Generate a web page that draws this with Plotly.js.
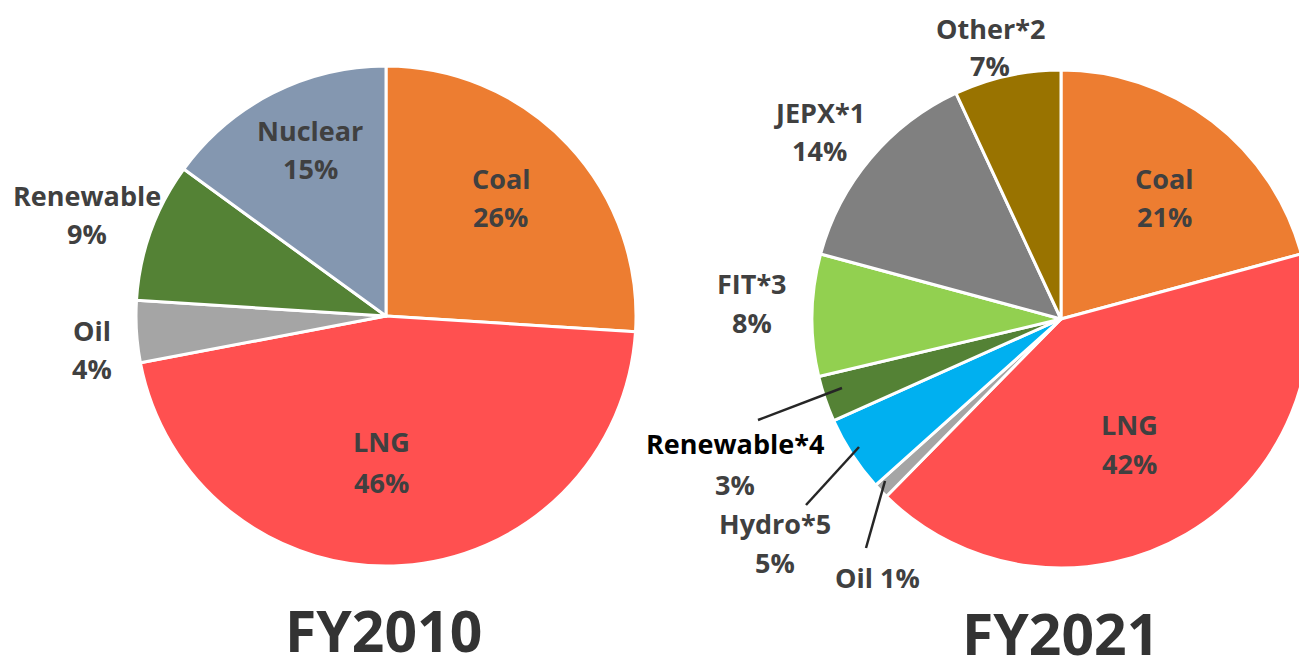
<!DOCTYPE html>
<html><head><meta charset="utf-8">
<script src="https://cdn.plot.ly/plotly-3.0.1.min.js"></script>
<style>html,body{margin:0;padding:0;overflow:hidden;background:#fff}</style>
</head><body><div id="chart"></div>
<script>
// FY2010
const labels2010 = ["Coal", "LNG", "Oil", "Renewable", "Nuclear"];
const values2010 = [26, 46, 4, 9, 15];
const colors2010 = ["#ED7D31", "#FF5050", "#A5A5A5", "#548235", "#8497B0"];
// FY2021
const labels2021 = ["Coal", "LNG", "Oil", "Hydro*5", "Renewable*4", "FIT*3", "JEPX*1", "Other*2"];
const values2021 = [21, 42, 1, 5, 3, 8, 14, 7];
const colors2021 = ["#ED7D31", "#FF5050", "#A5A5A5", "#00B0F0", "#548235", "#92D050", "#808080", "#997300"];
const titles = ["FY2010", "FY2021"];

const W = 1320, H = 656;
const px = x => x / W, py = y => 1 - y / H;
function dom(cx, cy, r) {
  return {x: [px(cx - r), px(cx + r)], y: [py(cy + r), py(cy - r)]};
}
const common = {type: "pie", sort: false, direction: "clockwise", rotation: 0,
  textinfo: "none", hoverinfo: "label+percent",
  showlegend: false};
const data = [
  Object.assign({}, common, {labels: labels2010, values: values2010,
    marker: {colors: colors2010, line: {color: "#fff", width: 3}}, domain: dom(386, 316, 250)}),
  Object.assign({}, common, {labels: labels2021, values: values2021,
    marker: {colors: colors2021, line: {color: "#fff", width: 3}}, domain: dom(1061, 319, 249)})
];

const TXT = "#404040";
const FS = 27;
const ann = [];
function lab(text, x, y, color) {
  ann.push({text: "<b>" + text + "</b>", x: px(x), y: py(y), xref: "paper", yref: "paper",
    showarrow: false, xanchor: "center", yanchor: "middle",
    font: {family: "Open Sans", size: FS, color: color || TXT}});
}
function two(name, val, x, y1, y2, color) { lab(name, x, y1, color); lab(val + "%", x, y2); }
// FY2010 labels
two(labels2010[0], values2010[0], 501, 178, 216);
two(labels2010[4], values2010[4], 310, 130, 168);
two(labels2010[3], values2010[3], 87, 195, 233);
two(labels2010[2], values2010[2], 92, 330, 368);
two(labels2010[1], values2010[1], 381, 441, 482);
// FY2021 labels
two(labels2021[7], values2021[7], 990, 28, 66);
two(labels2021[6], values2021[6], 819, 112, 150);
two(labels2021[0], values2021[0], 1164, 178, 216);
two(labels2021[5], values2021[5], 752, 283, 322);
two(labels2021[1], values2021[1], 1129, 424, 463);
two(labels2021[4], values2021[4], 735, 443, 484, "#000000");
two(labels2021[3], values2021[3], 775, 523, 562);
lab(labels2021[2] + " " + values2021[2] + "%", 877, 577);
// titles
ann.push({text: "<b>" + titles[0] + "</b>", x: px(383), y: py(630), xref: "paper", yref: "paper",
  showarrow: false, xanchor: "center", yanchor: "middle", font: {family: "Open Sans", size: 57, color: "#333333"}});
ann.push({text: "<b>" + titles[1] + "</b>", x: px(1060), y: py(633), xref: "paper", yref: "paper",
  showarrow: false, xanchor: "center", yanchor: "middle", font: {family: "Open Sans", size: 57, color: "#333333"}});

const lineStyle = {color: "#262626", width: 2.5};
const shapes = [
  {type: "line", xref: "paper", yref: "paper", x0: px(758), y0: py(420), x1: px(842), y1: py(388), line: lineStyle},
  {type: "line", xref: "paper", yref: "paper", x0: px(806), y0: py(505), x1: px(859), y1: py(447), line: lineStyle},
  {type: "line", xref: "paper", yref: "paper", x0: px(866), y0: py(548), x1: px(885), y1: py(481), line: lineStyle}
];

Plotly.newPlot("chart", data, {
  width: W, height: H, margin: {l: 0, r: 0, t: 0, b: 0},
  paper_bgcolor: "#fff", plot_bgcolor: "#fff",
  annotations: ann, shapes: shapes
}, {displayModeBar: false, staticPlot: true});
</script></body></html>
